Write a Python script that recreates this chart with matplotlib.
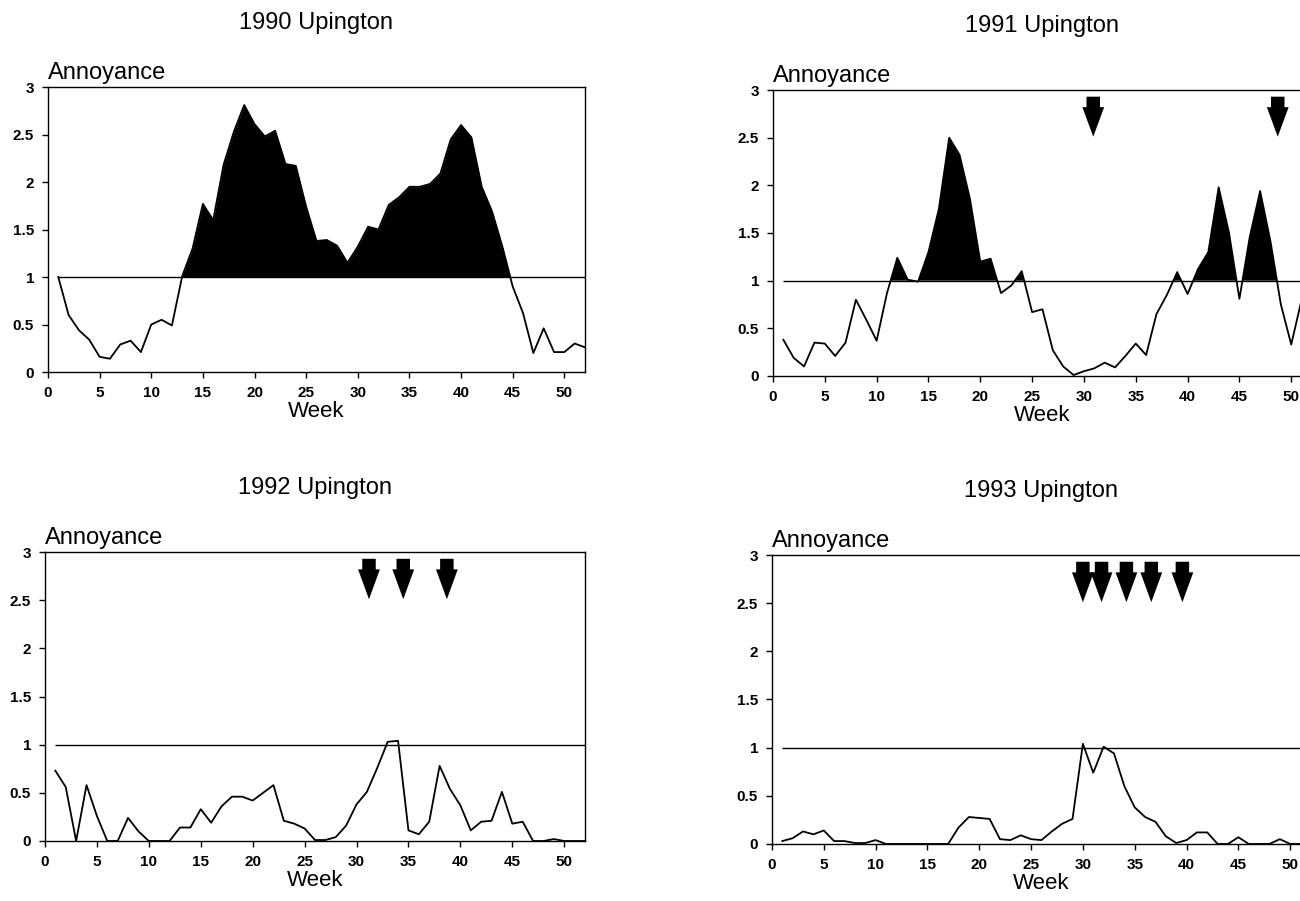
"""Weekly annoyance index at Upington, 1990-1993.

Four panels, one per year. Weeks with annoyance above the threshold (1)
are filled black in 1990/1991; arrows mark the weeks of control treatments.
"""

import matplotlib

matplotlib.use("Agg")
import matplotlib.pyplot as plt
import numpy as np
from matplotlib.ticker import FuncFormatter

WEEKS = list(range(1, 53))

ANNOY_1990 = [
    1.00, 0.60, 0.44, 0.34, 0.16, 0.14, 0.29, 0.33, 0.21, 0.50,
    0.55, 0.49, 1.01, 1.30, 1.77, 1.60, 2.18, 2.53, 2.81, 2.61,
    2.48, 2.54, 2.19, 2.17, 1.74, 1.38, 1.39, 1.33, 1.15, 1.32,
    1.53, 1.50, 1.76, 1.84, 1.95, 1.95, 1.98, 2.09, 2.45, 2.60,
    2.47, 1.95, 1.69, 1.32, 0.90, 0.62, 0.20, 0.46, 0.21, 0.21,
    0.30, 0.26,
]
ANNOY_1991 = [
    0.38, 0.19, 0.10, 0.35, 0.34, 0.21, 0.35, 0.80, 0.59, 0.37,
    0.87, 1.24, 1.01, 0.99, 1.30, 1.75, 2.50, 2.32, 1.86, 1.20,
    1.23, 0.87, 0.95, 1.10, 0.67, 0.70, 0.27, 0.10, 0.01, 0.05,
    0.08, 0.14, 0.09, 0.21, 0.34, 0.22, 0.65, 0.85, 1.09, 0.86,
    1.12, 1.30, 1.98, 1.50, 0.81, 1.46, 1.94, 1.41, 0.75, 0.33,
    0.80, 0.95,
]
ANNOY_1992 = [
    0.73, 0.56, 0.00, 0.58, 0.26, 0.00, 0.00, 0.24, 0.10, 0.00,
    0.00, 0.00, 0.14, 0.14, 0.33, 0.19, 0.36, 0.46, 0.46, 0.42,
    0.50, 0.58, 0.21, 0.18, 0.13, 0.01, 0.01, 0.04, 0.16, 0.38,
    0.51, 0.76, 1.03, 1.04, 0.11, 0.07, 0.20, 0.78, 0.54, 0.37,
    0.11, 0.20, 0.21, 0.51, 0.18, 0.20, 0.00, 0.00, 0.02, 0.00,
    0.00, 0.00,
]
ANNOY_1993 = [
    0.03, 0.06, 0.13, 0.10, 0.14, 0.03, 0.03, 0.01, 0.01, 0.04,
    0.00, 0.00, 0.00, 0.00, 0.00, 0.00, 0.00, 0.17, 0.28, 0.27,
    0.26, 0.05, 0.04, 0.09, 0.05, 0.04, 0.13, 0.21, 0.26, 1.04,
    0.74, 1.01, 0.94, 0.60, 0.38, 0.28, 0.23, 0.08, 0.01, 0.04,
    0.12, 0.12, 0.00, 0.00, 0.07, 0.00, 0.00, 0.00, 0.05, 0.00,
    0.00, 0.00,
]

# weeks where treatment arrows are drawn
ARROWS_1990 = []
ARROWS_1991 = [30.9, 48.7]
ARROWS_1992 = [31.2, 34.5, 38.7]
ARROWS_1993 = [30.0, 31.8, 34.2, 36.6, 39.6]

THRESHOLD = 1.0
YEARS = ["1990", "1991", "1992", "1993"]
SHADED = [True, True, False, False]  # the original only blacks out 1990/91

# axes rectangles in figure fractions (left, bottom, width, height)
PANEL_POS = [
    (0.0369, 0.5871, 0.4131, 0.3163),
    (0.5946, 0.5827, 0.4146, 0.3174),
    (0.0346, 0.0666, 0.4154, 0.3207),
    (0.5938, 0.0633, 0.4146, 0.3207),
]

plt.rcParams["font.family"] = ["Liberation Sans", "DejaVu Sans"]


def plot_panel(fig, pos, year, values, arrows, shaded):
    ax = fig.add_axes(pos)
    x = np.array(WEEKS)
    y = np.array(values)

    ax.hlines(THRESHOLD, 1, 52, color="black", linewidth=1.0)
    if shaded:
        ax.fill_between(x, y, THRESHOLD, where=y > THRESHOLD,
                        interpolate=True, color="black", linewidth=0)
    ax.plot(x, y, color="black", linewidth=1.3)

    for w in arrows:
        ax.arrow(w, 2.93, 0, -0.42, width=1.3, head_width=2.1,
                 head_length=0.31, length_includes_head=True,
                 color="black", linewidth=0)

    ax.set_xlim(0, 52)
    ax.set_ylim(0, 3)
    ax.set_xticks(range(0, 51, 5))
    ax.set_yticks([0, 0.5, 1, 1.5, 2, 2.5, 3])
    ax.yaxis.set_major_formatter(FuncFormatter(lambda v, p: f"{v:g}"))
    ax.tick_params(direction="out", length=4, width=1, labelsize=11,
                   pad=6)
    for lab in ax.get_xticklabels() + ax.get_yticklabels():
        lab.set_fontweight("bold")
    for sp in ax.spines.values():
        sp.set_linewidth(1.0)

    ax.set_xlabel("Week", fontsize=16, labelpad=1)
    ax.text(0, 1.012, "Annoyance", transform=ax.transAxes,
            ha="left", va="bottom", fontsize=17)
    ax.set_title(f"{year} Upington", fontsize=17, pad=42)
    return ax


def main():
    fig = plt.figure(figsize=(13, 9.01), dpi=100)
    series = [ANNOY_1990, ANNOY_1991, ANNOY_1992, ANNOY_1993]
    arrows = [ARROWS_1990, ARROWS_1991, ARROWS_1992, ARROWS_1993]
    for pos, year, vals, arr, sh in zip(PANEL_POS, YEARS, series, arrows, SHADED):
        plot_panel(fig, pos, year, vals, arr, sh)
    fig.savefig("out.png", dpi=100)
    plt.close(fig)


if __name__ == "__main__":
    main()
